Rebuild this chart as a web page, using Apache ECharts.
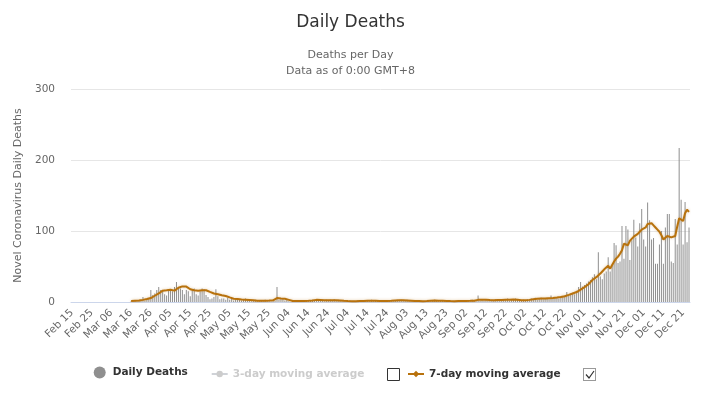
<!DOCTYPE html>
<html>
<head>
<meta charset="utf-8">
<script src="https://cdn.jsdelivr.net/npm/echarts@6.0.0/dist/echarts.min.js"></script>
<style>
  html, body { margin: 0; padding: 0; background: #fff; }
  #chart { width: 701px; height: 396px; }
</style>
</head>
<body>
<div id="chart"></div>
<script>
// one category per day, Feb 15 .. Dec 24 (2020)
const monthNames = ['Jan', 'Feb', 'Mar', 'Apr', 'May', 'Jun', 'Jul', 'Aug', 'Sep', 'Oct', 'Nov', 'Dec']
const dayCount = 314
const dates = []
for (let i = 0; i < dayCount; i++) {
  const d = new Date(Date.UTC(2020, 1, 15 + i))
  dates.push(monthNames[d.getUTCMonth()] + ' ' + String(d.getUTCDate()).padStart(2, '0'))
}

// daily deaths, rows of 10 days starting Feb 15
const dailyDeaths = [
  0, 0, 0, 0, 0, 0, 0, 0, 0, 0,
  0, 0, 0, 0, 0, 0, 0, 0, 0, 0,
  0, 0, 0, 0, 0, 0, 0, 0, 0, 0,
  1, 1, 2, 1, 2, 3, 7, 2, 3, 5,
  17, 10, 12, 17, 21, 17, 15, 11, 9, 17,
  17, 15, 21, 28, 21, 19, 17, 11, 17, 15,
  8, 18, 19, 11, 9, 15, 19, 18, 10, 7,
  4, 5, 7, 18, 8, 4, 5, 5, 3, 6,
  3, 5, 2, 4, 3, 4, 2, 3, 5, 2,
  3, 1, 2, 3, 1, 2, 2, 1, 3, 2,
  2, 1, 3, 2, 21, 3, 4, 5, 2, 3,
  1, 0, 1, 2, 1, 0, 2, 1, 1, 2,
  1, 2, 3, 2, 4, 3, 2, 3, 1, 3,
  2, 3, 2, 4, 2, 3, 2, 1, 2, 1,
  1, 2, 1, 0, 1, 2, 1, 1, 2, 1,
  2, 1, 3, 1, 2, 1, 2, 1, 1, 0,
  1, 2, 1, 1, 2, 3, 2, 3, 2, 2,
  3, 2, 1, 2, 1, 1, 2, 1, 0, 1,
  1, 2, 1, 2, 3, 2, 1, 2, 2, 1,
  2, 1, 1, 0, 1, 1, 2, 1, 1, 2,
  1, 2, 1, 3, 2, 1, 9, 2, 3, 2,
  4, 2, 3, 3, 2, 4, 3, 2, 4, 3,
  3, 5, 2, 4, 3, 5, 3, 4, 2, 3,
  2, 4, 3, 5, 4, 6, 3, 5, 6, 4,
  5, 6, 4, 9, 5, 6, 7, 5, 8, 7,
  9, 14, 10, 12, 13, 11, 16, 21, 28, 22,
  24, 26, 29, 31, 35, 39, 32, 70, 36, 32,
  40, 43, 63, 43, 51, 83, 80, 55, 57, 107,
  61, 107, 102, 59, 87, 116, 91, 78, 111, 131,
  88, 78, 140, 115, 88, 90, 54, 54, 81, 100,
  54, 105, 124, 124, 57, 55, 117, 81, 217, 144,
  81, 141, 84, 105
]

// 7-day moving average as drawn, same rows
const avg7 = [
  null, null, null, null, null, null, null, null, null, null,
  null, null, null, null, null, null, null, null, null, null,
  null, null, null, null, null, null, null, null, null, null,
  1.4, 1.5, 1.7, 1.8, 2.0, 2.3, 3.0, 3.6, 4.2, 5.0,
  5.6, 7.0, 8.8, 10.2, 12.0, 13.0, 16.0, 17.0, 16.5, 16.5,
  17.2, 16.8, 16.0, 18.0, 20.0, 21.5, 22.0, 22.0, 21.7, 20.5,
  18.0, 17.5, 16.5, 16.2, 16.0, 15.5, 16.5, 17.8, 16.5, 14.8,
  14.2, 13.0, 12.0, 11.5, 11.0, 10.3, 9.6, 9.0, 8.5, 7.8,
  6.5, 4.8, 4.6, 4.4, 4.2, 4.0, 3.6, 3.4, 3.2, 3.0,
  2.8, 2.6, 2.4, 2.1, 1.9, 1.9, 1.9, 1.9, 1.9, 1.9,
  2.0, 2.1, 2.3, 2.5, 5.5, 5.2, 4.8, 4.6, 4.5, 4.3,
  3.0, 1.5, 1.4, 1.4, 1.3, 1.2, 1.3, 1.4, 1.4, 1.5,
  1.6, 1.8, 2.1, 2.6, 3.0, 3.0, 2.9, 2.8, 2.6, 2.5,
  2.6, 2.7, 2.6, 2.5, 2.4, 2.3, 2.2, 2.0, 1.7, 1.5,
  1.3, 1.2, 1.1, 1.1, 1.2, 1.2, 1.3, 1.3, 1.4, 1.6,
  1.8, 1.9, 1.8, 1.7, 1.6, 1.5, 1.4, 1.3, 1.3, 1.2,
  1.3, 1.4, 1.6, 1.9, 2.2, 2.4, 2.5, 2.5, 2.4, 2.3,
  2.2, 2.0, 1.8, 1.6, 1.4, 1.3, 1.3, 1.2, 1.2, 1.3,
  1.4, 1.6, 1.8, 2.0, 2.1, 2.0, 1.9, 1.8, 1.7, 1.6,
  1.5, 1.4, 1.3, 1.2, 1.2, 1.3, 1.3, 1.4, 1.4, 1.5,
  1.5, 1.6, 1.6, 1.7, 1.8, 1.9, 3.0, 3.1, 3.0, 3.0,
  3.1, 3.0, 2.7, 2.6, 2.5, 2.6, 2.7, 2.8, 2.9, 3.0,
  3.2, 3.3, 3.3, 3.4, 3.5, 3.4, 3.2, 2.8, 2.6, 2.4,
  2.3, 2.6, 3.0, 3.4, 3.8, 4.2, 4.6, 5.0, 5.0, 5.0,
  5.0, 5.1, 5.3, 5.5, 5.6, 5.9, 6.2, 6.5, 7.0, 7.6,
  8.2, 8.5, 10.0, 11.0, 12.0, 13.0, 14.0, 16.0, 17.5, 19.0,
  21, 23, 25, 28, 31, 33, 35, 37, 40, 43,
  46, 48, 51, 47, 52, 57, 61, 64, 68, 73,
  82, 84, 80, 86, 88, 92, 94, 96, 99, 102,
  104, 105, 110, 112, 111, 108, 105, 102, 99, 94,
  88, 90, 93, 93, 91, 92, 93, 106, 118, 120,
  114, 125, 130, 127
]

// hidden in the reference (legend item switched off)
const avg3 = []

const font = 'DejaVu Sans'
const lineColor = '#b8720d'

const chart = echarts.init(document.getElementById('chart'))

chart.setOption({
  animation: false,
  backgroundColor: '#fff',
  title: [{
    text: 'Daily Deaths',
    left: 'center',
    top: 9,
    textStyle: { fontFamily: font, fontSize: 17, fontWeight: 'normal', color: '#333333' },
  }, {
    text: 'Deaths per Day\nData as of 0:00 GMT+8',
    left: 'center',
    top: 42,
    textStyle: { fontFamily: font, fontSize: 11, fontWeight: 'normal', color: '#666666', lineHeight: 16 },
  }],
  grid: { left: 71, right: 11, top: 89, bottom: 94, outerBoundsMode: 'none' },
  legend: [{
    data: [{ name: 'Daily Deaths', icon: 'circle' }],
    left: 93.7,
    top: 366.5,
    padding: 0,
    itemWidth: 16,
    itemHeight: 12,
    textStyle: { fontFamily: font, fontSize: 10.5, fontWeight: 'bold', color: '#333333' },
  }, {
    data: ['3-day moving average'],
    selected: { '3-day moving average': false },
    left: 210.7,
    top: 368.5,
    padding: 0,
    itemWidth: 16,
    itemHeight: 8,
    inactiveColor: '#cccccc',
    textStyle: { fontFamily: font, fontSize: 10.5, fontWeight: 'bold', color: '#333333' },
  }, {
    data: ['7-day moving average'],
    left: 407,
    top: 368.5,
    padding: 0,
    itemWidth: 16,
    itemHeight: 8,
    textStyle: { fontFamily: font, fontSize: 10.5, fontWeight: 'bold', color: '#333333' },
  }],
  xAxis: {
    type: 'category',
    data: dates,
    axisLine: { lineStyle: { color: '#ccd6eb' } },
    axisTick: { show: false },
    axisLabel: {
      interval: 9,
      rotate: 45,
      margin: 9,
      color: '#666666',
      fontFamily: font,
      fontSize: 10.5,
    },
  },
  yAxis: {
    type: 'value',
    min: 0,
    max: 300,
    interval: 100,
    name: 'Novel Coronavirus Daily Deaths',
    nameLocation: 'middle',
    nameGap: 47,
    nameTextStyle: { fontFamily: font, fontSize: 11, color: '#666666' },
    axisLine: { show: false },
    axisTick: { show: false },
    axisLabel: { margin: 16, color: '#666666', fontFamily: font, fontSize: 10.5 },
    splitLine: { lineStyle: { color: '#e6e6e6' } },
  },
  series: [{
    name: 'Daily Deaths',
    type: 'bar',
    data: dailyDeaths,
    barWidth: 1,
    itemStyle: { color: '#8f8f8f' },
  }, {
    name: '3-day moving average',
    type: 'line',
    data: avg3,
    symbol: 'circle',
    showSymbol: false,
    itemStyle: { color: '#cccccc' },
  }, {
    name: '7-day moving average',
    type: 'line',
    data: avg7,
    symbol: 'diamond',
    symbolSize: 8,
    showSymbol: false,
    connectNulls: false,
    itemStyle: { color: lineColor },
    lineStyle: {
      width: 2,
      color: lineColor,
      shadowColor: 'rgba(184, 114, 13, 0.35)',
      shadowBlur: 3,
    },
    z: 3,
  }],
  graphic: [{
    type: 'rect',
    shape: { x: 387.5, y: 368.5, width: 12, height: 12 },
    style: { fill: '#ffffff', stroke: '#333333', lineWidth: 1 },
  }, {
    type: 'rect',
    shape: { x: 583.5, y: 368.5, width: 12, height: 12 },
    style: { fill: '#ffffff', stroke: '#333333', lineWidth: 1, lineDash: [1, 1] },
  }, {
    type: 'polyline',
    shape: { points: [[586, 374.5], [589, 378], [594, 371]] },
    style: { fill: null, stroke: '#333333', lineWidth: 1.2 },
  }],
})
</script>
</body>
</html>
